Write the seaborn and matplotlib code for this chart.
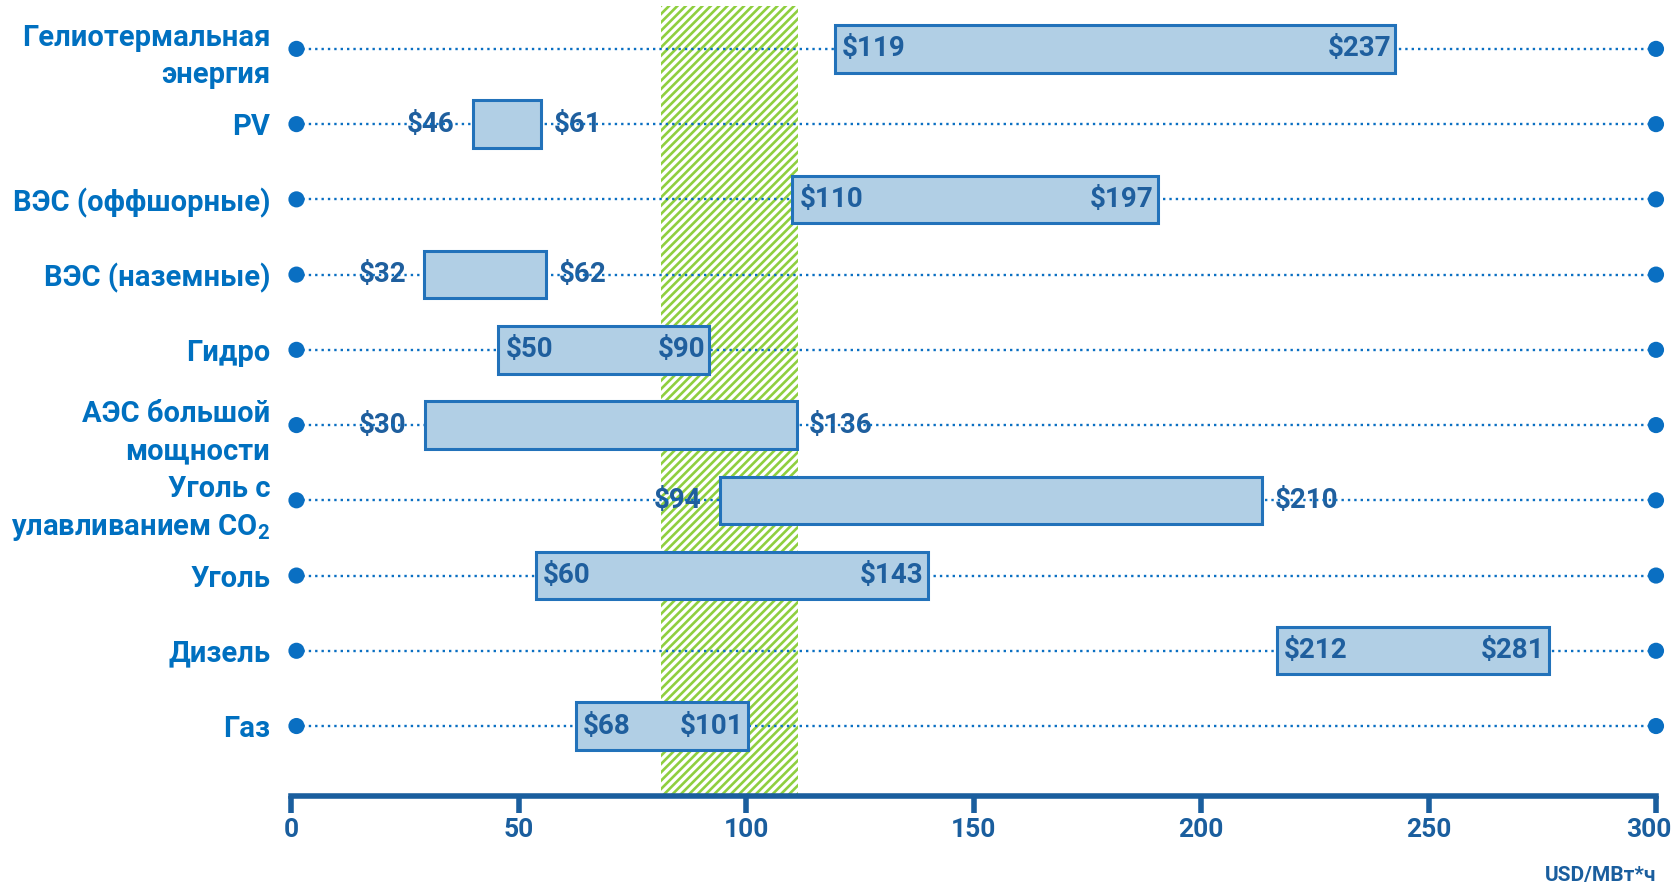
import matplotlib
matplotlib.use("Agg")
import matplotlib.pyplot as plt
import matplotlib.transforms as mtransforms
import seaborn as sns
import numpy as np
import pandas as pd

# ---------------- data ----------------
categories = [
    "Гелиотермальная\nэнергия",
    "PV",
    "ВЭС (оффшорные)",
    "ВЭС (наземные)",
    "Гидро",
    "АЭС большой\nмощности",
    "Уголь с\nулавливанием CO$_\\mathregular{2}$",
    "Уголь",
    "Дизель",
    "Газ",
]
low_labels = [119, 46, 110, 32, 50, 30, 94, 60, 212, 68]
high_labels = [237, 61, 197, 62, 90, 136, 210, 143, 281, 101]
bar_start = [119.6, 40.0, 110.2, 29.3, 45.6, 29.4, 94.2, 53.8, 216.7, 62.6]
bar_end = [242.7, 55.0, 190.5, 56.0, 91.9, 111.1, 213.5, 140.0, 276.5, 100.4]
labels_inside = [True, False, True, False, True, False, False, True, True, True]
band_range = [81.3, 111.4]
line_range = [1.2, 300]
x_ticks = [0, 50, 100, 150, 200, 250, 300]
unit_label = "USD/МВт*ч"

# ---------------- style ----------------
sns.set_theme(style="white")
plt.rcParams["font.family"] = ["Roboto", "DejaVu Sans"]
plt.rcParams["font.weight"] = "bold"
plt.rcParams["hatch.color"] = "#8FCF3F"
plt.rcParams["hatch.linewidth"] = 1.9

cat_color = "#0070C0"
val_color = "#1F5F9E"
axis_color = "#1A5E9E"
bar_fill = "#B1CFE5"
bar_edge = "#2272BA"
dot_color = "#0A6FC2"

W, H = 1676, 888
fig = plt.figure(figsize=(W / 100, H / 100), dpi=100)
ax = fig.add_axes([291 / W, 92 / H, (1656 - 291) / W, (882 - 92) / H])

rows = np.arange(len(categories))
df = pd.DataFrame({"cat": categories, "row": rows, "start": bar_start, "end": bar_end})

# hatched band
ax.axvspan(band_range[0], band_range[1], ymin=0, ymax=1, facecolor="none",
           edgecolor="#8FCF3F", hatch="////", linewidth=0, zorder=0)

# dotted guide lines
ax.hlines(df["row"], line_range[0], line_range[1], colors=dot_color,
          linestyles=(0, (1, 1.7)), linewidth=1.7, zorder=2)

# end dots
dots = pd.DataFrame({
    "x": [line_range[0]] * len(rows) + [line_range[1]] * len(rows),
    "y": list(rows) + list(rows),
})
sns.scatterplot(data=dots, x="x", y="y", ax=ax, s=135, color=dot_color,
                edgecolor="none", zorder=5, clip_on=False, legend=False)

# floating bars
ax.barh(df["row"], df["end"] - df["start"], left=df["start"], height=0.63,
        color=bar_fill, edgecolor=bar_edge, linewidth=2.2, zorder=3)

# value labels
VFS = 20
for r, s, e, lo, hi, inside in zip(rows, bar_start, bar_end, low_labels, high_labels, labels_inside):
    if inside:
        ax.annotate(f"\\${lo}", (s, r), xytext=(5, 0), textcoords="offset points",
                    ha="left", va="center", fontsize=VFS, fontweight="bold",
                    color=val_color, zorder=4)
        ax.annotate(f"\\${hi}", (e, r), xytext=(-3, 0), textcoords="offset points",
                    ha="right", va="center", fontsize=VFS, fontweight="bold",
                    color=val_color, zorder=4)
    else:
        ax.annotate(f"\\${lo}", (s, r), xytext=(-13, 0), textcoords="offset points",
                    ha="right", va="center", fontsize=VFS, fontweight="bold",
                    color=val_color, zorder=1.5)
        ax.annotate(f"\\${hi}", (e, r), xytext=(9, 0), textcoords="offset points",
                    ha="left", va="center", fontsize=VFS, fontweight="bold",
                    color=val_color, zorder=1.5)

# axes
ax.set_xlim(0, 300)
ax.set_ylim(9.93, -0.57)
ax.set_xticks(x_ticks)
ax.set_xticklabels([str(t) for t in x_ticks], fontsize=19, fontweight="bold", color=axis_color)
ax.set_yticks(rows)
ax.set_yticklabels(categories, fontsize=21, fontweight="bold", color=cat_color,
                   linespacing=1.4)
ax.tick_params(axis="y", length=0, pad=15)
ax.tick_params(axis="x", length=12, width=4, color=axis_color, pad=4, bottom=True)
# nudge the last tick label so it stays inside the figure
last = ax.get_xticklabels()[-1]
last.set_transform(last.get_transform() + mtransforms.ScaledTranslation(-7 / 100, 0, fig.dpi_scale_trans))
for side in ["top", "left", "right"]:
    ax.spines[side].set_visible(False)
ax.spines["bottom"].set_color(axis_color)
ax.spines["bottom"].set_linewidth(4)
ax.set_xlabel("")
ax.set_ylabel("")
ax.grid(False)

fig.text(1656 / W, 13 / H, unit_label, ha="right", va="center", fontsize=15,
         fontweight="bold", color=axis_color)

fig.savefig("out.png", dpi=100)
